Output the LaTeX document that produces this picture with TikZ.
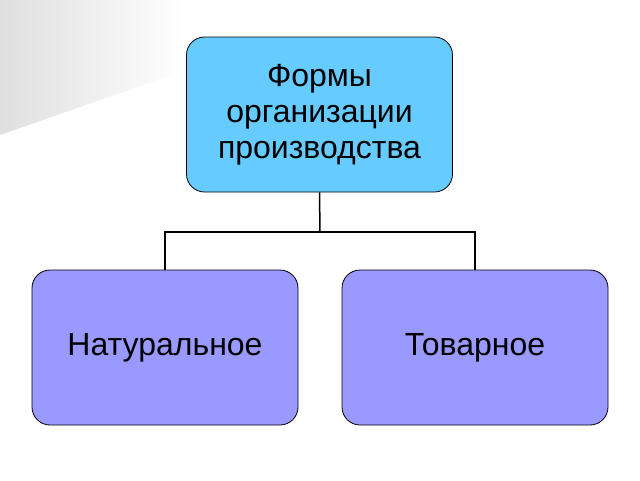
\documentclass[tikz,border=0pt]{standalone}
\usepackage{fontspec}
\setmainfont{Liberation Sans}
\begin{document}
\begin{tikzpicture}[x=1pt,y=-1pt,
  box/.style={draw=black,line width=0.8pt,rounded corners=18pt,minimum width=266pt,minimum height=155pt,align=center,font=\fontsize{32}{36}\selectfont},
  conn/.style={draw=black,line width=1.5pt}]
\useasboundingbox (0,0) rectangle (640,480);
\fill[white] (0,0) rectangle (640,480);
\shade[left color=gray!25,right color=white] (0,0) -- (186,0) -- (186,70) -- (0,135) -- cycle;
\node[box,fill={rgb,255:red,102;green,204;blue,255}] (top) at (319.5,114.5) {Формы\\организации\\производства};
\node[box,fill={rgb,255:red,153;green,153;blue,255}] (l) at (165,347.5) {Натуральное};
\node[box,fill={rgb,255:red,153;green,153;blue,255}] (r) at (475,347.5) {Товарное};
\coordinate (m) at (320,232);
\draw[conn] (top.south) -- (m);
\draw[conn] (l.north) |- (m) -| (r.north);
\end{tikzpicture}
\end{document}
